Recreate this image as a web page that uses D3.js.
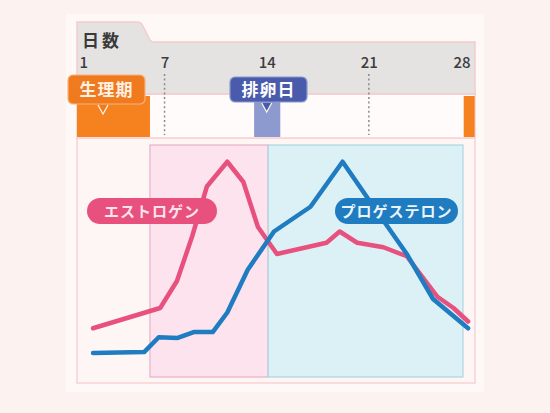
<!DOCTYPE html>
<html>
<head>
<meta charset="utf-8">
<script src="https://cdn.jsdelivr.net/npm/d3@7"></script>
<style>
  html, body { margin: 0; padding: 0; background: #fcf3f1; }
  svg { display: block; }
</style>
</head>
<body>
<svg id="chart" width="550" height="413"></svg>
<script>
// 日数の目盛り
const dayTicks = [1, 7, 14, 21, 28];
const dashedDays = [7, 21];

// エストロゲン
const estrogenDays  = [2.1, 6.7, 7.85, 8.9, 9.9, 11.3, 12.4, 13.4, 14.7, 18.1, 19.0, 20.2, 22.0, 23.6, 25.7, 26.8, 27.8];
const estrogenLevel = [23, 32, 44, 64, 86, 97, 88, 68, 56, 61, 66, 61, 59, 55, 37, 32, 26];

// プロゲステロン
const progesteroneDays  = [2.1, 5.6, 6.6, 7.9, 9.0, 10.3, 11.3, 12.7, 14.5, 17.0, 19.2, 20.9, 23.6, 25.4, 27.8];
const progesteroneLevel = [12, 12.4, 19, 18.7, 21.3, 21.3, 30, 49, 66, 77, 97, 81, 56, 36, 23];

// 期間
const periodSpans    = [[1, 6], [27.5, 28.25]];
const ovulationSpan  = [13, 15];
const follicularSpan = [6, 14.1];
const lutealSpan     = [14.1, 27.45];

const svg = d3.select('#chart');
const font = '"Noto Sans CJK JP", "Noto Sans", sans-serif';

let x = d3.scaleLinear().domain([1, 28]).range([77, 471]);
let y = d3.scaleLinear().domain([0, 100]).range([380, 155]);

let left = 77, right = 475, bottom = 383;

// 外枠の背景
svg.append('rect')
    .attr('x', 66).attr('y', 14).attr('width', 418).attr('height', 378)
    .attr('fill', '#fef8f7');

// グラフ領域
svg.append('rect')
    .attr('x', left).attr('y', 138).attr('width', right - left).attr('height', bottom - 138)
    .attr('fill', '#fdf6f5').attr('stroke', '#f7d2d2').attr('stroke-width', 1.5);

// 生理期の行
svg.append('rect')
    .attr('x', left).attr('y', 94).attr('width', right - left).attr('height', 44)
    .attr('fill', '#fffbfb').attr('stroke', '#f7d2d2').attr('stroke-width', 1.5);

// 日数タブ
svg.append('path')
    .attr('d', `M${left},22 L137,22 Q141,22 143,26 L150,40 Q151,42 155,42 L${right},42 L${right},94 L${left},94 Z`)
    .attr('fill', '#e5e2e2').attr('stroke', '#f5cccc').attr('stroke-width', 1.5);

svg.append('text')
    .attr('x', 82).attr('y', 47)
    .attr('font-family', font).attr('font-size', 17).attr('font-weight', 'bold')
    .attr('letter-spacing', 3).attr('fill', '#3a3a3a')
    .text('日数');

// 卵胞期・黄体期
svg.append('rect')
    .attr('x', x(follicularSpan[0])).attr('y', 145)
    .attr('width', x(follicularSpan[1]) - x(follicularSpan[0])).attr('height', 232)
    .attr('fill', '#fce3ee').attr('stroke', '#eab0c8').attr('stroke-width', 1.2);

svg.append('rect')
    .attr('x', x(lutealSpan[0])).attr('y', 145)
    .attr('width', x(lutealSpan[1]) - x(lutealSpan[0])).attr('height', 232)
    .attr('fill', '#dcf1f5').attr('stroke', '#acd6e2').attr('stroke-width', 1.2);

// 点線
svg.selectAll('.dash')
    .data(dashedDays)
  .enter().append('line')
    .attr('class', 'dash')
    .attr('x1', d => x(d)).attr('x2', d => x(d))
    .attr('y1', 74).attr('y2', 135)
    .attr('stroke', '#8a8a8a').attr('stroke-width', 1.5)
    .attr('stroke-dasharray', '2,2.6');

// 生理期
svg.selectAll('.period')
    .data(periodSpans)
  .enter().append('rect')
    .attr('class', 'period')
    .attr('x', d => x(d[0])).attr('y', 96)
    .attr('width', d => x(d[1]) - x(d[0])).attr('height', 41)
    .attr('fill', '#f5821f');

// 排卵日
svg.append('rect')
    .attr('x', x(ovulationSpan[0]) + 2).attr('y', 100)
    .attr('width', x(ovulationSpan[1]) - x(ovulationSpan[0]) - 3).attr('height', 37)
    .attr('fill', '#8c9acf');

// 目盛り
let axis = d3.axisTop(x).tickValues(dayTicks).tickSize(0).tickPadding(1).tickFormat(d3.format('d'));
let gAxis = svg.append('g').attr('transform', 'translate(0,69)').call(axis);
gAxis.select('.domain').remove();
gAxis.selectAll('text')
    .attr('font-family', font).attr('font-size', 15).attr('font-weight', 500).attr('fill', '#3c3c3c')
    .attr('text-anchor', d => d === 1 ? 'start' : (d === 28 ? 'end' : 'middle'))
    .attr('dx', d => d === 1 ? 2 : (d === 28 ? -1 : 0));

// 吹き出し
function callout(cx, x0, x1, y0, y1, fill, stroke, label, textFill) {
    svg.append('rect')
        .attr('x', x0).attr('y', y0).attr('width', x1 - x0).attr('height', y1 - y0)
        .attr('rx', 5).attr('fill', fill).attr('stroke', stroke).attr('stroke-width', 1.2);
    svg.append('path')
        .attr('d', `M${cx - 5},${y1 + 1} L${cx},${y1 + 10} L${cx + 5},${y1 + 1}`)
        .attr('fill', fill).attr('stroke', '#fff6ee').attr('stroke-width', 1.2);
    svg.append('text')
        .attr('x', (x0 + x1) / 2).attr('y', (y0 + y1) / 2 + 6)
        .attr('text-anchor', 'middle')
        .attr('font-family', font).attr('font-size', 17).attr('font-weight', 'bold')
        .attr('letter-spacing', 1).attr('fill', textFill)
        .text(label);
}
callout(103, 68, 145, 75, 104, '#f07a1e', '#f9b27a', '生理期', '#fff1e6');
callout(x(14), 230, 307, 77, 102, '#4b5bab', '#8c9acf', '排卵日', '#ffffff');

// 線
let line = d3.line().x(d => x(d[0])).y(d => y(d[1]));

svg.append('path')
    .datum(estrogenDays.map((d, i) => [d, estrogenLevel[i]]))
    .attr('d', line)
    .attr('fill', 'none').attr('stroke', '#e8507e').attr('stroke-width', 4.5)
    .attr('stroke-linejoin', 'round').attr('stroke-linecap', 'round');

svg.append('path')
    .datum(progesteroneDays.map((d, i) => [d, progesteroneLevel[i]]))
    .attr('d', line)
    .attr('fill', 'none').attr('stroke', '#1f7cc0').attr('stroke-width', 4.5)
    .attr('stroke-linejoin', 'round').attr('stroke-linecap', 'round');

// ラベル
function pill(x0, x1, y0, y1, fill, label, textFill) {
    svg.append('rect')
        .attr('x', x0).attr('y', y0).attr('width', x1 - x0).attr('height', y1 - y0)
        .attr('rx', (y1 - y0) / 2).attr('fill', fill);
    svg.append('text')
        .attr('x', (x0 + x1) / 2).attr('y', (y0 + y1) / 2 + 5.5)
        .attr('text-anchor', 'middle')
        .attr('font-family', font).attr('font-size', 15).attr('font-weight', 'bold')
        .attr('letter-spacing', 1).attr('fill', textFill)
        .text(label);
}
pill(87, 217, 198, 224, '#e8507e', 'エストロゲン', '#fde3ec');
pill(335, 458, 198, 224, '#1f7cc0', 'プロゲステロン', '#eaf4fb');
</script>
</body>
</html>
